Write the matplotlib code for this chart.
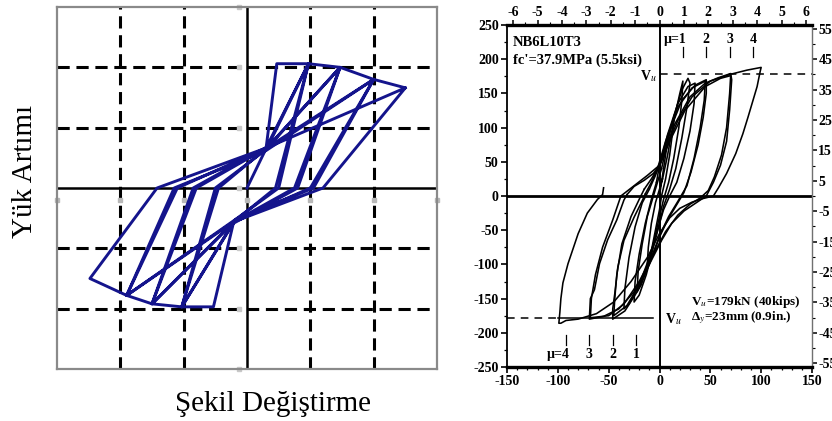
import numpy as np
import matplotlib.pyplot as plt
from matplotlib.ticker import MultipleLocator, FixedLocator

plt.rcParams['axes.unicode_minus'] = False
plt.rcParams['mathtext.fontset'] = 'stix'

# ---- left panel: idealised pinched hysteresis (grid units) ----
left_x = [0.0, 0.30, 0.47, 0.97, 0.45, -0.21, -0.53, -1.03, -0.45, 0.32, 0.97,
          0.50, -0.18, -1.03, -0.50, 0.28, 0.97, 1.47, 0.75, -0.21, -1.03, -1.50,
          -0.80, 0.32, 1.47, 0.80, -0.24, -1.50, -0.85, 0.35, 1.47, 2.00, 1.00,
          -0.21, -1.50, -1.90, -1.10, 0.32, 2.00, 1.05, -0.18, -1.90, -1.15, 0.30,
          2.00, 2.50, 1.20, -0.21, -1.90, -2.48, -1.42, 0.32, 2.50]
left_y = [0.0, 0.65, 2.06, 2.06, 0.0, -0.56, -1.97, -1.97, 0.0, 0.67, 2.06,
          0.0, -0.52, -1.97, 0.0, 0.62, 2.06, 2.00, 0.0, -0.56, -1.97, -1.92,
          0.0, 0.67, 2.00, 0.0, -0.60, -1.92, 0.0, 0.70, 2.00, 1.80, 0.0,
          -0.56, -1.92, -1.78, 0.0, 0.67, 1.80, 0.0, -0.52, -1.78, 0.0, 0.62,
          1.80, 1.66, 0.0, -0.56, -1.78, -1.50, 0.0, 0.67, 1.66]
grid_pos = [-2, -1, 1, 2]

# ---- right panel: test hysteresis (mm, kN) ----
c1_x = [0, 4, 8, 12, 15, 13, 10, 6, 2, 0, -4, -8, -12, -11, -8, -4, 0, 3]
c1_y = [0, 40, 80, 105, 120, 95, 60, 25, 0, -20, -50, -80, -100, -75, -40, -10, 10, 25]
c2_x = [3, 8, 14, 20, 23, 22, 19, 14, 9, 4, 0, -6, -12, -18, -22, -21, -17, -12, -6, -2, 2]
c2_y = [25, 60, 110, 150, 168, 140, 100, 55, 20, -5, -30, -70, -105, -130, -140, -110, -70, -30, 0, 20, 40]
c3_x = [2, 8, 15, 22, 28, 30, 27, 22, 16, 10, 4, 0, -6, -13, -20, -25, -24, -20, -14, -8, -3]
c3_y = [40, 80, 120, 155, 172, 165, 130, 85, 40, 10, -15, -40, -75, -115, -145, -155, -125, -85, -40, -5, 20]
c4_x = [-3, 0, 8, 18, 28, 35, 34, 30, 24, 17, 10, 4, -2, -10, -20, -30, -35, -34, -30, -24, -17, -10]
c4_y = [20, 45, 90, 135, 160, 165, 135, 95, 55, 20, 0, -20, -50, -90, -130, -158, -165, -135, -90, -45, -10, 10]
c5_x = [-10, -4, 0, 10, 22, 35, 46, 46, 43, 38, 31, 24, 16, 8, 0, -10, -22, -34, -46,
        -46, -44, -41, -35, -25, -17, -14]
c5_y = [10, 30, 45, 95, 140, 162, 170, 150, 115, 75, 35, 5, -15, -35, -60, -100, -140, -168, -180,
        -165, -143, -104, -65, -31, -7, 3]
c6_x = [-14, -8, -2, 6, 18, 32, 45, 44, 40, 34, 27, 18, 9, 1, -8, -20, -32, -45, -44, -42, -37, -28, -20, -15]
c6_y = [3, 20, 40, 80, 130, 158, 168, 140, 100, 55, 15, -8, -30, -55, -90, -130, -160, -175, -150, -115, -70, -30, -5, 10]
c7_x = [-15, -8, -2, 5, 15, 30, 45, 58, 70, 71, 69, 66, 60, 53, 46, 36, 24, 12, 2, -10, -25, -40, -55, -69,
        -68, -64, -59, -51, -42, -35, -32]
c7_y = [10, 25, 40, 65, 105, 145, 165, 173, 179, 170, 126, 80, 45, 20, 0, -10, -22, -40, -65, -100, -140, -165, -176, -180,
        -150, -137, -99, -64, -35, -6, 2]
c8_x = [-32, -25, -15, -6, 1, 10, 25, 45, 60, 70, 69, 66, 61, 54, 48, 40, 30, 18, 6, -6, -20, -35, -50, -68,
        -67, -63, -56, -46, -38]
c8_y = [2, 14, 23, 33, 47, 80, 125, 160, 172, 176, 150, 100, 60, 28, 8, -3, -12, -28, -52, -85, -125, -158, -175, -178,
        -150, -115, -75, -35, 0]
c9_x = [-38, -25, -12, 0, 8, 18, 32, 50, 70, 86, 100, 99, 96, 92, 87, 82, 75, 66, 58, 53, 42, 32, 20, 10, 0,
        -12, -28, -45, -62, -80, -92, -97, -99, -98, -97, -95, -90, -80, -71, -61, -56, -55]
c9_y = [0, 15, 30, 45, 75, 110, 145, 168, 178, 184, 188, 182, 160, 140, 115, 91, 62, 33, 12, 0, -4, -9, -18, -32, -55,
        -90, -125, -155, -172, -180, -182, -186, -186, -170, -150, -127, -99, -55, -25, -5, 2, 12]
cycles = [(c1_x, c1_y), (c2_x, c2_y), (c3_x, c3_y), (c4_x, c4_y), (c5_x, c5_y),
          (c6_x, c6_y), (c7_x, c7_y), (c8_x, c8_y), (c9_x, c9_y)]

Vu = 179
mu_pos = [23, 46, 69, 92]
mu_labels = ['1', '2', '3', '4']
kips_ticks = [55, 45, 35, 25, 15, 5, -5, -15, -25, -35, -45, -55]

fig = plt.figure(figsize=(8.32, 4.21), dpi=100)

# ---------------- left ----------------
axL = fig.add_axes([57/832, 52/421, 380/832, 362/421])
axL.set_xlim(-3, 3)
axL.set_ylim(-3, 3)
for p in grid_pos:
    axL.axvline(p, color='black', lw=2.2, ls=(0, (4, 2.2)), zorder=1)
    axL.axhline(p, color='black', lw=2.2, ls=(0, (4, 2.2)), zorder=1)
axL.axvline(0, color='black', lw=1.8, zorder=1)
axL.axhline(0, color='black', lw=1.8, zorder=1)
axL.plot(range(-3, 4), [-0.2] * 7, 's', ms=2.5, color='#b8b8b8', zorder=1, clip_on=False)
axL.plot([-0.12] * 7, range(-3, 4), 's', ms=2.5, color='#c8c8c8', zorder=1, clip_on=False)
axL.plot(left_x, left_y, color='#14148c', lw=2.1, zorder=3)
axL.set_xticks([])
axL.set_yticks([])
for s in axL.spines.values():
    s.set_color('#8a8a8a')
    s.set_linewidth(1.6)

fig.text(25/832, 1 - 171/421, 'Yük Artımı', rotation=90, ha='center', va='center',
         family='Liberation Serif', fontsize=21)
fig.text(273/832, 1 - 404/421, 'Şekil Değiştirme', ha='center', va='center',
         family='Liberation Serif', fontsize=21)

# ---------------- right ----------------
tf = dict(family='Liberation Serif', fontweight='bold', fontsize=10.5)
tv = dict(family='Liberation Serif', fontweight='bold', fontsize=9.5)
tk = dict(family='Liberation Serif', fontweight='bold', fontsize=10)
axR = fig.add_axes([507/832, 54/421, 305/832, 342/421])
axR.set_xlim(-150, 150)
axR.set_ylim(-250, 250)
for cx, cy in cycles:
    axR.plot(cx, cy, color='black', lw=1.15, zorder=3)
axR.axhline(0, color='black', lw=2.0, zorder=2)
axR.axvline(0, color='black', lw=1.4, zorder=2)
axR.plot([0, 150], [Vu, Vu], color='black', lw=1.1, ls=(0, (5, 4)))
axR.plot([-150, -100], [-Vu, -Vu], color='black', lw=1.1, ls=(0, (5, 4)))
axR.plot([-100, -6], [-Vu, -Vu], color='black', lw=1.1)
for p in mu_pos:
    axR.plot([p, p], [203, 218], color='black', lw=0.9)
    axR.plot([-p, -p], [-218, -203], color='black', lw=0.9)
axR.text(27, 229, 'μ=1', ha='right', va='center', **tk)
for p, lab in zip(mu_pos[1:], mu_labels[1:]):
    axR.text(p, 229, lab, ha='center', va='center', **tk)
axR.text(-88, -232, 'μ=4', ha='right', va='center', **tk)
for p, lab in zip(mu_pos[:3][::-1], mu_labels[:3][::-1]):
    axR.text(-p, -232, lab, ha='center', va='center', **tk)

axR.text(-144, 225, 'NB6L10T3', ha='left', va='center', **tf)
axR.text(-144, 198, "fc'=37.9MPa (5.5ksi)", ha='left', va='center', **tf)
axR.text(-3, 176, r'V$_u$', ha='right', va='center', **tk)
axR.text(5, -180, r'V$_u$', ha='left', va='center', **tk)
axR.text(31, -155, r'V$_u$=179kN (40kips)', ha='left', va='center', **tv)
axR.text(31, -178, r'Δ$_y$=23mm (0.9in.)', ha='left', va='center', **tv)

axR.xaxis.set_major_locator(MultipleLocator(50))
axR.xaxis.set_minor_locator(MultipleLocator(10))
axR.yaxis.set_major_locator(MultipleLocator(50))
axR.yaxis.set_minor_locator(MultipleLocator(25))
axR.tick_params(which='major', direction='out', length=4, width=1.2, pad=2)
axR.tick_params(which='minor', direction='out', length=2.5, width=0.9)
for lab in axR.get_xticklabels() + axR.get_yticklabels():
    lab.set_fontfamily('Liberation Serif')
    lab.set_fontweight('bold')
    lab.set_fontsize(10)
axR.spines['top'].set_linewidth(2.4)
axR.spines['bottom'].set_linewidth(2.4)
axR.spines['left'].set_linewidth(1.3)
axR.spines['right'].set_linewidth(1.0)
axR.spines['right'].set_color('#707070')

top = axR.secondary_xaxis('top', functions=(lambda x: x / 24.0, lambda x: x * 24.0))
top.xaxis.set_minor_locator(MultipleLocator(0.5))
top.tick_params(which='major', direction='out', length=3.5, width=1.1, pad=1)
top.tick_params(which='minor', direction='out', length=2, width=0.8)
top.set_xticks(range(-6, 7))
top.set_xticklabels([str(v) for v in range(-6, 7)], **tk)

right = axR.secondary_yaxis('right', functions=(lambda y: y / 4.448, lambda k: k * 4.448))
right.set_yticks(kips_ticks)
right.set_yticklabels([str(v) for v in kips_ticks], **tk)
right.yaxis.set_minor_locator(FixedLocator(range(-50, 60, 10)))
right.tick_params(which='major', direction='out', length=3.5, width=1.1, pad=1)
right.tick_params(which='minor', direction='out', length=2, width=0.8)
right.spines['right'].set_visible(False)

fig.savefig('out.png', dpi=100)
